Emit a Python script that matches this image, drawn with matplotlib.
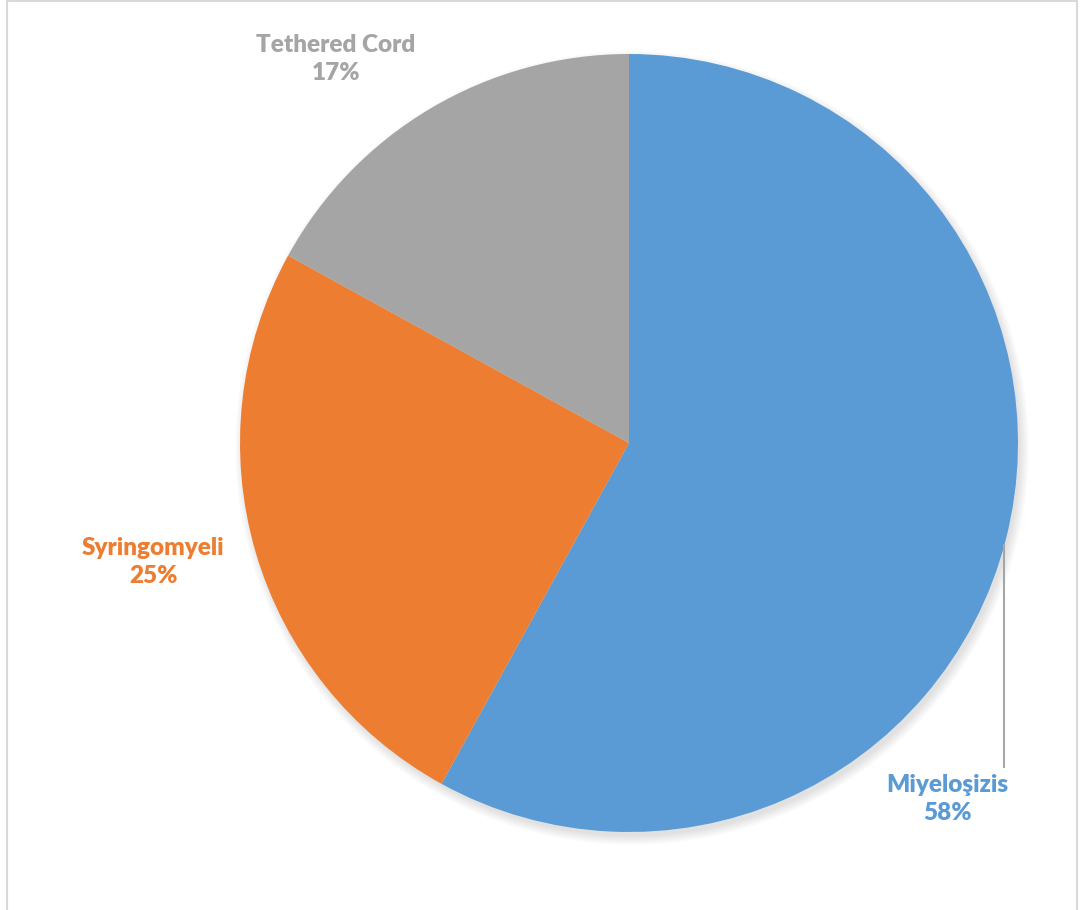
import matplotlib
matplotlib.use("Agg")
import matplotlib.pyplot as plt
from matplotlib.patches import Rectangle, Circle

categories = ["Miyeloşizis", "Syringomyeli", "Tethered Cord"]
values = [58, 25, 17]
colors = ["#5B9BD5", "#ED7D31", "#A5A5A5"]

W, H = 1083, 910
fig = plt.figure(figsize=(W / 100, H / 100), dpi=100)
ax = fig.add_axes([0, 0, 1, 1])
ax.set_xlim(0, W)
ax.set_ylim(0, H)
ax.set_aspect("equal")
ax.axis("off")

# chart frame
ax.add_patch(Rectangle((7, -10), 1070, H - 1 + 10, fill=False, edgecolor="#D9D9D9", lw=1.5))

cx, cy, r = 629, H - 443, 389

# soft shadow
for i in range(10):
    ax.add_patch(Circle((cx + 3, cy - 5), r + 8 - i, color="black", alpha=0.012, lw=0))

wedges, _ = ax.pie(values, colors=colors, startangle=90, counterclock=False,
                   center=(cx, cy), radius=r, frame=True,
                   wedgeprops=dict(linewidth=0))
ax.set_xlim(0, W)
ax.set_ylim(0, H)
ax.axis("off")

font = "Lato"
label_pos = [(947, 799), (153, 562), (336, 59)]
for cat, v, col, (px, py) in zip(categories, values, colors, label_pos):
    ax.text(px, H - py, f"{cat}\n{v}%", ha="center", va="center", color=col,
            fontsize=17.5, fontweight="heavy", family=font, linespacing=1.38)

# leader line for Miyeloşizis
ax.plot([1004, 1004], [H - 545, H - 767], color="#A6A6A6", lw=1.5)

fig.savefig("out.png", dpi=100)
